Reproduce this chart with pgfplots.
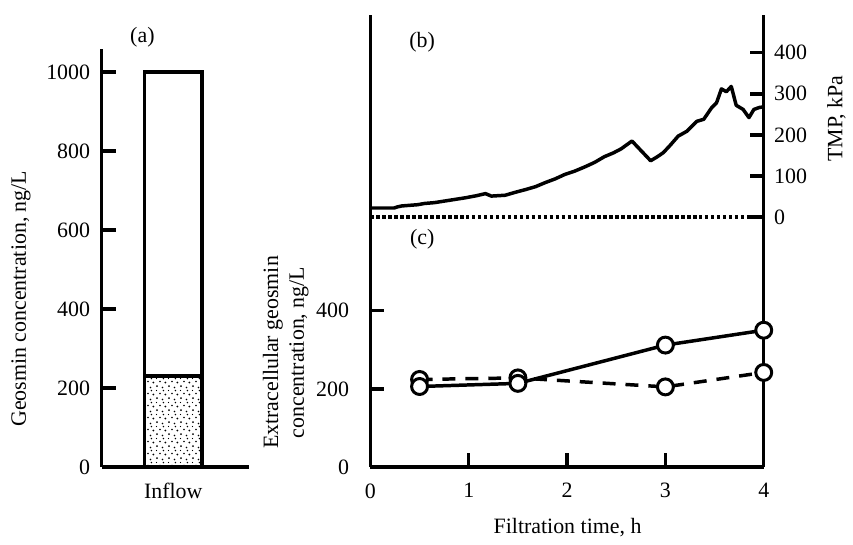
\documentclass[border=0pt]{standalone}
\usepackage{fontspec}
\setmainfont{Liberation Serif}
\usepackage{pgfplots}
\pgfplotsset{compat=1.18}
\usetikzlibrary{patterns}

% sparse stipple for the intracellular part of the bar
\pgfdeclarepatternformonly{stipple}{\pgfqpoint{0pt}{0pt}}{\pgfqpoint{12pt}{12pt}}{\pgfqpoint{12pt}{12pt}}{%
  \pgfpathcircle{\pgfqpoint{2pt}{3pt}}{1.0pt}
  \pgfpathcircle{\pgfqpoint{7.5pt}{1.5pt}}{0.8pt}
  \pgfpathcircle{\pgfqpoint{10.5pt}{6.5pt}}{1.0pt}
  \pgfpathcircle{\pgfqpoint{5pt}{7.5pt}}{0.9pt}
  \pgfpathcircle{\pgfqpoint{8.5pt}{10.5pt}}{0.8pt}
  \pgfpathcircle{\pgfqpoint{1.5pt}{10.5pt}}{0.7pt}
  \pgfusepath{fill}}

\begin{document}
\fontsize{22}{26}\selectfont
\begin{tikzpicture}
\pgfplotsset{every axis/.append style={
  scale only axis,
  axis line style={line width=3.5pt},
  tick align=inside, major tick length=14pt,
  xtick style={draw=black, line width=3.5pt},
  ytick style={draw=black, line width=3.5pt},
  /pgf/number format/assume math mode=true,
  /pgf/number format/1000 sep={},
  tick label style={font=\fontsize{22}{26}\selectfont},
  xticklabel style={yshift=-9pt},
}}

% (a) inflow bar
\begin{axis}[at={(102pt,73pt)}, anchor=south west, width=148pt, height=420pt,
  xmin=0, xmax=148, ymin=0, ymax=1059,
  axis x line*=bottom, axis y line*=left,
  ybar stacked, bar width=58pt,
  ytick={0,200,...,1000}, yticklabel style={xshift=-4pt},
  xtick={72}, xticklabels={Inflow}, xtick style={draw=none}]
\addplot[draw=black, line width=3.5pt, pattern=stipple] coordinates {(72,230)};
\addplot[draw=black, line width=3.5pt, fill=white] coordinates {(72,770)};
\end{axis}

% (b) TMP
\begin{axis}[at={(372pt,73pt)}, anchor=south west, width=395pt, height=454pt,
  xmin=0, xmax=4, ymin=-608.5, ymax=492,
  axis x line=none, axis y line*=right,
  ytick={0,100,...,400}, yticklabel style={xshift=3pt}]
\addplot[black, line width=3.5pt, dash pattern=on 3.5pt off 2.5pt] coordinates {(0,0) (4,0)};
\addplot[black, line width=3.5pt, line join=round] coordinates {
  (0,22) (0.24,22) (0.28,25) (0.32,27) (0.48,30) (0.55,33) (0.65,35) (0.81,41)
  (0.97,47) (1.08,52) (1.17,57) (1.23,51) (1.37,53) (1.47,60) (1.58,67) (1.68,74)
  (1.78,84) (1.88,93) (1.98,104) (2.08,112) (2.18,122) (2.28,133) (2.38,147)
  (2.47,156) (2.55,166) (2.66,185) (2.85,137) (2.92,147) (2.98,157) (3.05,175)
  (3.13,197) (3.22,209) (3.32,233) (3.39,238) (3.47,266) (3.52,278) (3.57,312)
  (3.62,305) (3.67,318) (3.72,272) (3.79,262) (3.85,242) (3.90,262) (3.96,267)
  (4.0,268)};
\end{axis}

% (c) extracellular geosmin
\begin{axis}[at={(372pt,73pt)}, anchor=south west, width=395pt, height=454pt,
  xmin=0, xmax=4, ymin=0, ymax=1157,
  axis x line*=bottom, axis y line*=left,
  xtick={0,1,2,3,4}, ytick={0,200,400}, yticklabel style={xshift=-14pt},
  xtick pos=bottom, ytick pos=left, clip=false]
% inward tick marks of the lower panel
\draw[draw=black, line width=3.5pt] (axis cs:1,0) -- ++(0pt,14pt);
\draw[draw=black, line width=3.5pt] (axis cs:2,0) -- ++(0pt,14pt);
\draw[draw=black, line width=3.5pt] (axis cs:3,0) -- ++(0pt,14pt);
\draw[draw=black, line width=3.5pt] (axis cs:0,200) -- ++(14pt,0pt);
\draw[draw=black, line width=3.5pt] (axis cs:0,400) -- ++(14pt,0pt);
\addplot[black, line width=3.5pt, dash pattern=on 13pt off 10pt, mark=*, mark size=8pt,
  mark options={solid, fill=white, line width=3pt}]
  coordinates {(0.5,224) (1.5,228) (3,205) (4,242)};
\addplot[black, line width=3.5pt, mark=*, mark size=8pt,
  mark options={solid, fill=white, line width=3pt}]
  coordinates {(0.5,206) (1.5,214) (3,312) (4,350)};
\end{axis}

\node at (143pt,505pt) {(a)};
\node at (424pt,500pt) {(b)};
\node at (424pt,302pt) {(c)};
\node[rotate=90] at (21pt,242pt) {Geosmin concentration, ng/L};
\node[rotate=90, align=center] at (287pt,188pt) {Extracellular geosmin\\concentration, ng/L};
\node at (570pt,12pt) {Filtration time, h};
\node[rotate=90] at (840pt,423pt) {TMP, kPa};
\path (0pt,0pt) rectangle (853pt,542pt);
\end{tikzpicture}
\end{document}
